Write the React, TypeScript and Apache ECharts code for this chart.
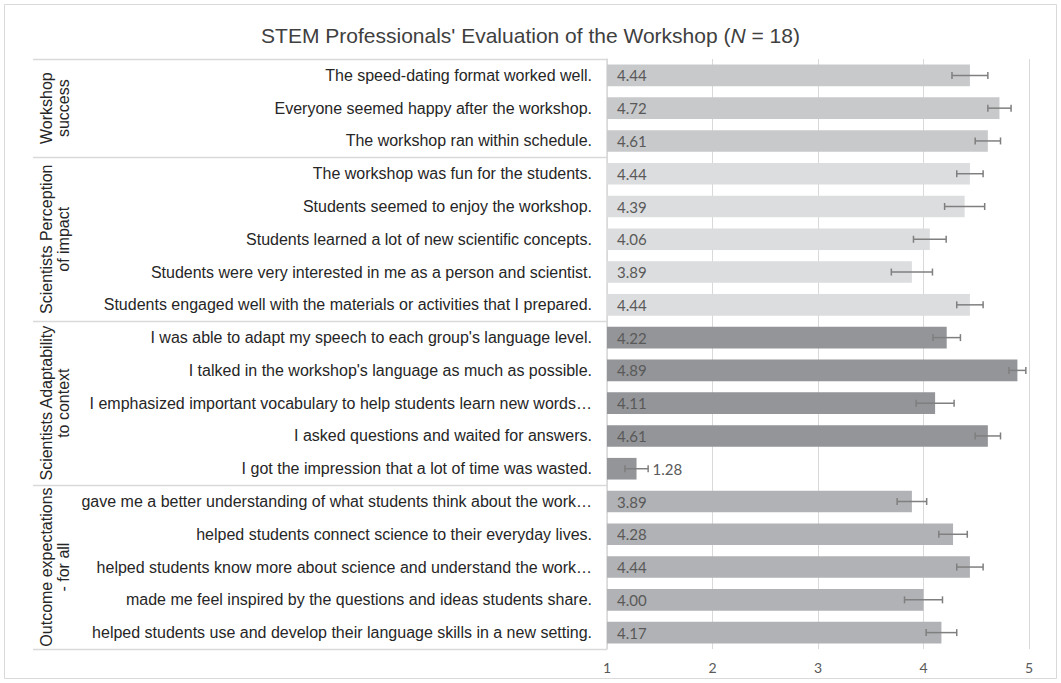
import React, { useEffect, useRef } from "react";
import * as echarts from "echarts";

const categories: string[] = [
  "The speed-dating format worked well.",
  "Everyone seemed happy after the workshop.",
  "The workshop ran within schedule.",
  "The workshop was fun for the students.",
  "Students seemed to enjoy the workshop.",
  "Students learned a lot of new scientific concepts.",
  "Students were very interested in me as a person and scientist.",
  "Students engaged well with the materials or activities that I prepared.",
  "I was able to adapt my speech to each group's language level.",
  "I talked in the workshop's language as much as possible.",
  "I emphasized important vocabulary to help students learn new words…",
  "I asked questions and waited for answers.",
  "I got the impression that a lot of time was wasted.",
  "gave me a better understanding of what students think about the work…",
  "helped students connect science to their everyday lives.",
  "helped students know more about science and understand the work…",
  "made me feel inspired by the questions and ideas students share.",
  "helped students use and develop their language skills in a new setting.",
];

const means: number[] = [4.44, 4.72, 4.61, 4.44, 4.39, 4.06, 3.89, 4.44, 4.22, 4.89, 4.11, 4.61, 1.28, 3.89, 4.28, 4.44, 4.0, 4.17];
const errors: number[] = [0.17, 0.11, 0.12, 0.125, 0.19, 0.155, 0.195, 0.125, 0.13, 0.08, 0.18, 0.12, 0.11, 0.14, 0.135, 0.125, 0.18, 0.145];

const groupNames: string[] = [
  "Workshop\nsuccess",
  "Scientists Perception\nof impact",
  "Scientists Adaptability\nto context",
  "Outcome expectations\n- for all",
];
const groupSizes: number[] = [3, 5, 5, 5];
const groupColors: string[] = ["#c8c9cb", "#dcdddf", "#939598", "#b1b2b5"];

const xTicks: number[] = [1, 2, 3, 4, 5];

export default function App() {
  const ref = useRef<HTMLDivElement>(null);
  useEffect(() => {
    if (!ref.current) return;
    const chart = echarts.init(ref.current, null, { renderer: "svg" });
    const W = 1061, H = 683;
    const gridLeft = 607, gridRight = 32, gridTop = 59, gridBottom = 34;
    const plotBottom = H - gridBottom;
    const rowH = (plotBottom - gridTop) / categories.length;
    const arial = "'Liberation Sans', Arial, sans-serif";

    const groupOf: number[] = [];
    groupSizes.forEach((s, g) => { for (let i = 0; i < s; i++) groupOf.push(g); });

    const barData = means.map((v, i) => {
      const item: any = { value: v, itemStyle: { color: groupColors[groupOf[i]] } };
      if (v < 2) {
        item.label = { position: "right", distance: 16 };
      }
      return item;
    });
    const errData = means.map((v, i) => [i, v - errors[i], v + errors[i]]);

    const graphics: any[] = [];
    graphics.push({
      type: "rect", silent: true,
      shape: { x: 4.5, y: 4.5, width: W - 9, height: H - 9 },
      style: { fill: "none", stroke: "#d9d9d9", lineWidth: 1 },
    });
    let cum = 0;
    const bounds: number[] = [0];
    groupSizes.forEach((s) => { cum += s; bounds.push(cum); });
    bounds.forEach((b) => {
      const y = Math.round(gridTop + b * rowH) + 0.5;
      graphics.push({
        type: "line", silent: true,
        shape: { x1: 33, y1: y, x2: gridLeft, y2: y },
        style: { stroke: "#d9d9d9", lineWidth: 1.5 },
      });
    });
    for (let g = 0; g < groupNames.length; g++) {
      const yc = gridTop + ((bounds[g] + bounds[g + 1]) / 2) * rowH;
      graphics.push({
        type: "text", silent: true,
        x: 55, y: yc, rotation: Math.PI / 2,
        style: {
          text: groupNames[g], fill: "#262626", fontSize: 16, lineHeight: 17,
          fontFamily: arial,
          align: "center", verticalAlign: "middle",
        },
      });
    }

    chart.setOption({
      animation: false,
      title: {
        text: "{a|STEM Professionals' Evaluation of the Workshop (}{i|N}{a| = 18)}",
        left: "center", top: 20,
        textStyle: {
          fontWeight: "normal",
          rich: {
            a: { fontSize: 21, fontWeight: "normal", color: "#404040", fontFamily: arial },
            i: { fontSize: 21, fontWeight: "normal", color: "#404040", fontStyle: "italic", fontFamily: arial },
          },
        },
      },
      grid: { left: gridLeft, right: gridRight, top: gridTop, bottom: gridBottom, containLabel: false },
      xAxis: {
        type: "value", min: xTicks[0], max: xTicks[xTicks.length - 1], interval: 1,
        axisLine: { show: false }, axisTick: { show: false },
        splitLine: { show: true, lineStyle: { color: "#d9d9d9", width: 1 } },
        axisLabel: { color: "#595959", fontSize: 14, fontFamily: "Lato, sans-serif", margin: 11 },
      },
      yAxis: {
        type: "category", inverse: true, data: categories,
        axisLine: { show: true, lineStyle: { color: "#d9d9d9", width: 1.5 } },
        axisTick: { show: false },
        axisLabel: {
          color: "#262626", fontSize: 16, fontFamily: arial,
          margin: 15, align: "right",
        },
      },
      series: [
        {
          type: "bar", data: barData, barWidth: "66%",
          label: {
            show: true, position: "insideLeft", distance: 10,
            color: "#595959", fontSize: 15, fontFamily: "Lato, sans-serif",
            formatter: (p: any) => Number(p.value).toFixed(2),
          },
          z: 2,
        },
        {
          type: "custom", data: errData, z: 3,
          encode: { x: [1, 2], y: 0 },
          renderItem: (params: any, api: any) => {
            const idx = api.value(0);
            const lo = api.coord([api.value(1), idx]);
            const hi = api.coord([api.value(2), idx]);
            const c = 3.5;
            const style = { stroke: "#7f7f7f", lineWidth: 1.5, fill: "none" };
            return {
              type: "group",
              children: [
                { type: "line", shape: { x1: lo[0], y1: lo[1], x2: hi[0], y2: hi[1] }, style },
                { type: "line", shape: { x1: lo[0], y1: lo[1] - c, x2: lo[0], y2: lo[1] + c }, style },
                { type: "line", shape: { x1: hi[0], y1: hi[1] - c, x2: hi[0], y2: hi[1] + c }, style },
              ],
            };
          },
        },
      ],
      graphic: graphics,
    });
    return () => chart.dispose();
  }, []);
  return <div ref={ref} style={{ position: "fixed", left: 0, top: 0, width: 1061, height: 683, background: "#fff" }} />;
}
